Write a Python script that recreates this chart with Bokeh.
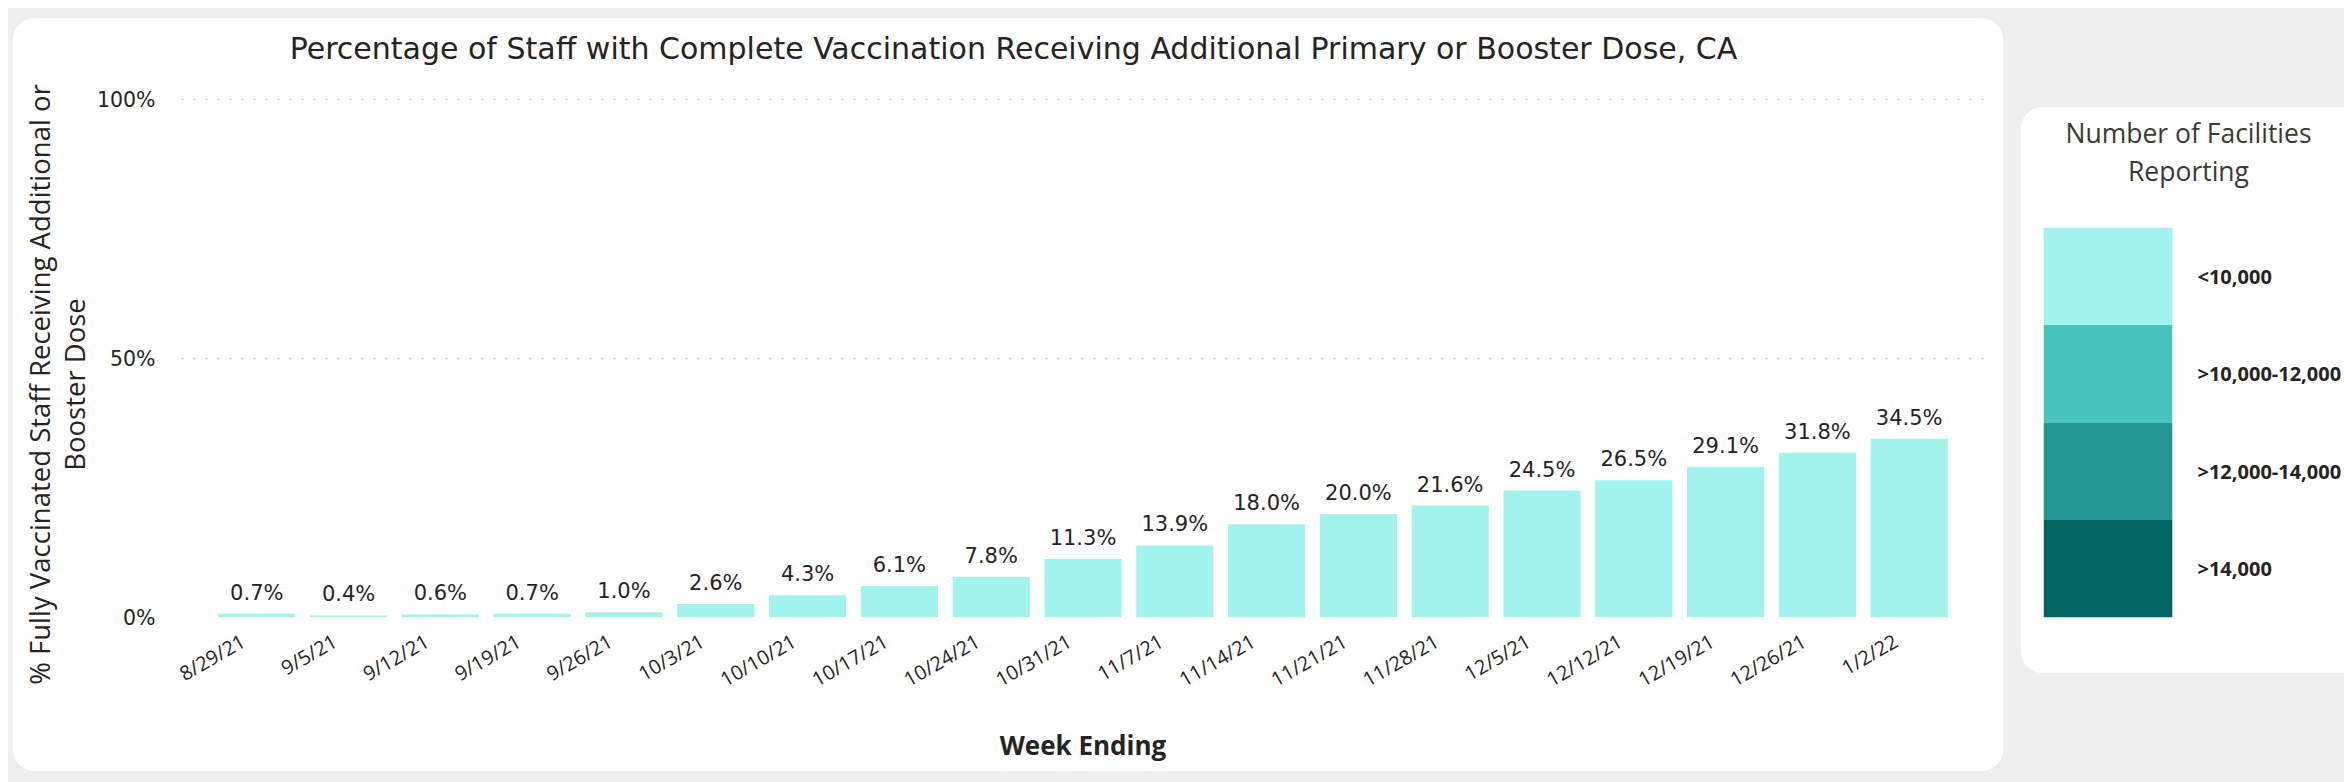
import math
from bokeh.plotting import figure
from bokeh.layouts import row, column
from bokeh.models import (FactorRange, Range1d, FixedTicker, PrintfTickFormatter,
                          Label, ColumnDataSource, Spacer)
from bokeh.transform import factor_cmap
from bokeh.core.properties import value
from bokeh.embed import file_html
from bokeh.resources import INLINE

# ---------------- data ----------------
weeks = ["8/29/21", "9/5/21", "9/12/21", "9/19/21", "9/26/21", "10/3/21", "10/10/21",
         "10/17/21", "10/24/21", "10/31/21", "11/7/21", "11/14/21", "11/21/21",
         "11/28/21", "12/5/21", "12/12/21", "12/19/21", "12/26/21", "1/2/22"]
pct = [0.7, 0.4, 0.6, 0.7, 1.0, 2.6, 4.3, 6.1, 7.8, 11.3, 13.9, 18.0, 20.0,
       21.6, 24.5, 26.5, 29.1, 31.8, 34.5]
facility_bins = ["<10,000", "<10,000", "<10,000", "<10,000", "<10,000", "<10,000",
                 "<10,000", "<10,000", "<10,000", "<10,000", "<10,000", "<10,000",
                 "<10,000", "<10,000", "<10,000", "<10,000", "<10,000", "<10,000",
                 "<10,000"]
legend_labels = ["<10,000", ">10,000-12,000", ">12,000-14,000", ">14,000"]
legend_colors = ["#A1F4EE", "#48C3BC", "#22968F", "#016661"]
y_ticks = [0, 50, 100]

title_text = ("Percentage of Staff with Complete Vaccination Receiving Additional "
              "Primary or Booster Dose, CA")
y_title_lines = ["% Fully Vaccinated Staff Receiving Additional or", "Booster Dose"]
x_title = "Week Ending"
legend_title = ["Number of Facilities", "Reporting"]

TXT = "#252423"
BG = "#EEEEEE"
PAD = "\u00a0" * 3     # trailing no-break spaces nudge the rotated tick labels left
factors = [w + PAD for w in weeks]


def blank_fig(w, h):
    f = figure(width=w, height=h, x_range=Range1d(0, 1), y_range=Range1d(0, 1),
               output_backend="svg", toolbar_location=None,
               x_axis_location=None, y_axis_location=None, min_border=0,
               frame_align=False)
    f.title.visible = False
    f.grid.visible = False
    f.outline_line_color = None
    f.border_fill_color = "#FFFFFF"
    f.background_fill_color = "#FFFFFF"
    return f


# ---------------- main card (1990 x 753) ----------------
CH = 753
YLW = 80                     # strip holding the rotated y title
PW = 1990 - YLW              # chart figure width

yl_fig = blank_fig(YLW, CH)
for txt, xc in zip(y_title_lines, [26, 61]):
    yl_fig.add_layout(Label(x=xc, y=387, x_units="screen", y_units="screen",
                            text=txt, angle=math.pi / 2, text_align="center",
                            text_baseline="middle", text_font="Open Sans",
                            text_font_size="27.5px", text_color=TXT))

labels = [f"{v:.1f}%" for v in pct]
src = ColumnDataSource(dict(week=factors, pct=pct, label=labels, bin=facility_bins))

FL, FR, FB = 84, 1891, 599          # frame edges inside the chart figure (px)
GRID_TOP = 81                       # pixel row of the 100% line
p = figure(width=PW, height=CH,
           x_range=FactorRange(factors=factors, range_padding=0.32,
                               range_padding_units="absolute"),
           y_range=Range1d(0, 100 * FB / (FB - GRID_TOP)),
           output_backend="svg", toolbar_location=None, frame_align=False,
           min_border_left=FL, min_border_right=PW - FR,
           min_border_top=0, min_border_bottom=CH - FB)
p.title.visible = False
p.border_fill_color = "#FFFFFF"
p.background_fill_color = "#FFFFFF"
p.outline_line_color = None

p.vbar(x="week", top="pct", width=0.84, source=src,
       fill_color=factor_cmap("bin", legend_colors, legend_labels), line_color=None)
p.text(x="week", y="pct", text="label", source=src, text_align="center",
       text_baseline="alphabetic", y_offset=-21, text_font=value("DejaVu Sans"),
       text_font_size="21px", text_color=TXT)

p.add_layout(Label(x=832, y=569, x_units="screen", y_units="screen",
                   text=title_text, text_align="center", text_baseline="alphabetic",
                   text_font="DejaVu Sans", text_font_size="30px", text_color=TXT))

p.yaxis.ticker = FixedTicker(ticks=y_ticks)
p.yaxis.formatter = PrintfTickFormatter(format="%d%%")
p.yaxis.axis_line_color = None
p.yaxis.major_tick_line_color = None
p.yaxis.minor_tick_line_color = None
p.yaxis.major_label_standoff = 20
p.yaxis.major_label_text_font = "DejaVu Sans"
p.yaxis.major_label_text_font_size = "20.5px"
p.yaxis.major_label_text_color = TXT

p.xaxis.axis_line_color = None
p.xaxis.major_tick_line_color = None
p.xaxis.minor_tick_line_color = None
p.xaxis.major_label_orientation = 0.52
p.xaxis.major_label_standoff = 8
p.xaxis.major_label_text_font = "Open Sans"
p.xaxis.major_label_text_font_size = "20px"
p.xaxis.major_label_text_color = TXT
p.xaxis.axis_label = x_title
p.xaxis.axis_label_text_font = "Open Sans"
p.xaxis.axis_label_text_font_size = "26px"
p.xaxis.axis_label_text_font_style = "bold"
p.xaxis.axis_label_text_color = TXT
p.xaxis.axis_label_standoff = 20

p.xgrid.visible = False
p.ygrid.grid_line_color = "#C8C6C4"
p.ygrid.grid_line_dash = "2 10"
p.ygrid.grid_line_width = 1.5
p.ygrid.level = "annotation"

# ---------------- legend card ----------------
LW = 323
lt_fig = blank_fig(LW, 93)
for txt, base in zip(legend_title, [68, 30]):
    lt_fig.add_layout(Label(x=167, y=base, x_units="screen", y_units="screen",
                            text=txt, text_align="center", text_baseline="alphabetic",
                            text_font="Open Sans", text_font_size="26.5px",
                            text_color="#3B3A39"))

QH = 473
QL, QR, QT, QB = 22, 156, 27, 417
q = figure(width=LW, height=QH, x_range=Range1d(0, 1),
           y_range=FactorRange(factors=list(reversed(legend_labels)), range_padding=0),
           output_backend="svg", toolbar_location=None, frame_align=False,
           y_axis_location="right", x_axis_location=None,
           min_border_left=QL, min_border_right=LW - QR,
           min_border_top=QT, min_border_bottom=QH - QB)
q.title.visible = False
q.border_fill_color = "#FFFFFF"
q.background_fill_color = "#FFFFFF"
q.outline_line_color = None
q.grid.visible = False

q.hbar(y=legend_labels, left=0, right=1, height=1, fill_color=legend_colors,
       line_color=None)
q.yaxis.axis_line_color = None
q.yaxis.major_tick_line_color = None
q.yaxis.minor_tick_line_color = None
q.yaxis.major_label_standoff = 19
q.yaxis.major_label_text_font = "Open Sans"
q.yaxis.major_label_text_font_style = "bold"
q.yaxis.major_label_text_font_size = "20px"
q.yaxis.major_label_text_color = TXT

# ---------------- page ----------------
main_card = row(yl_fig, p)
main_card.styles = {"background-color": "#FFFFFF", "border-radius": "22px",
                    "overflow": "hidden"}
leg_card = column(lt_fig, q)
leg_card.styles = {"background-color": "#FFFFFF",
                   "border-radius": "22px 0px 0px 22px", "overflow": "hidden"}

main_col = column(Spacer(width=1990, height=10), main_card,
                  Spacer(width=1990, height=11))
leg_col = column(Spacer(width=LW, height=99), leg_card, Spacer(width=LW, height=109))
inner = row(Spacer(width=5, height=774), main_col, Spacer(width=18, height=774), leg_col)
inner.styles = {"background-color": BG}
page = column(Spacer(width=2344, height=8), row(Spacer(width=8, height=774), inner))

open("out.html", "w").write(file_html(page, INLINE))
